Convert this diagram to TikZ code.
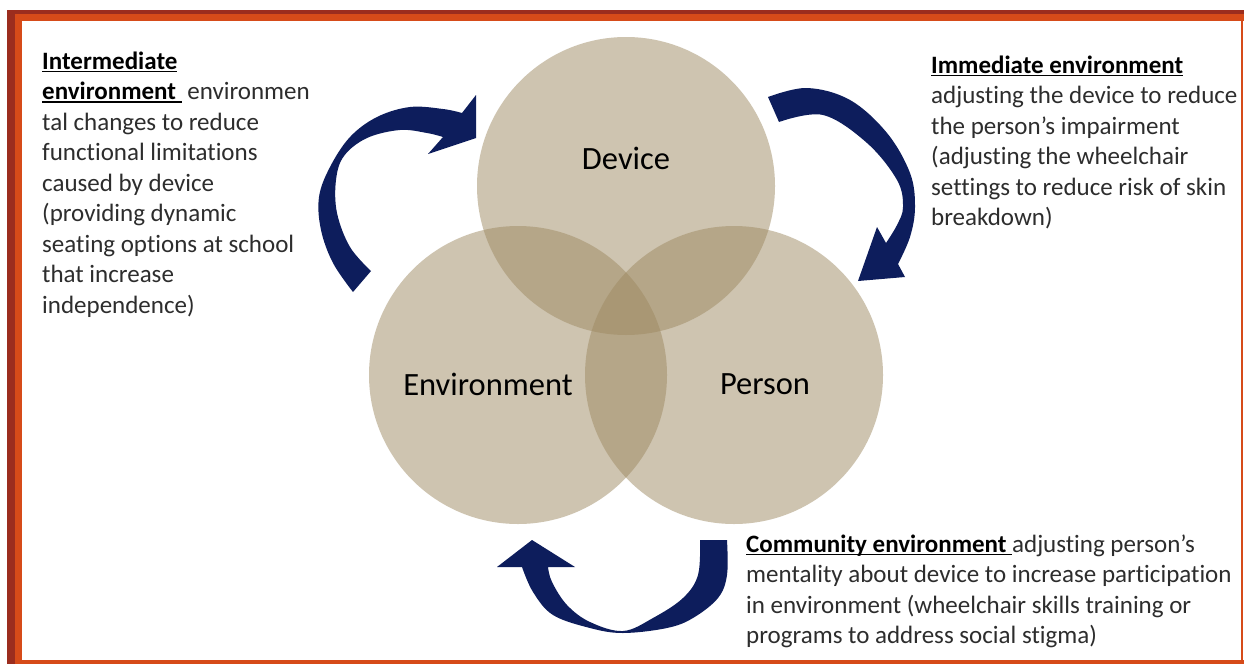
\documentclass[tikz,border=0pt]{standalone}
\usepackage{fontspec}
\setmainfont{Carlito}[Ligatures={NoCommon}]
\definecolor{framered}{RGB}{155,45,30}
\definecolor{frameorange}{RGB}{214,75,25}
\definecolor{tanbase}{RGB}{158,138,98}
\definecolor{navy}{RGB}{13,29,92}
\definecolor{bodytext}{RGB}{45,45,45}
\newcommand\myul[1]{\leavevmode\setbox0\hbox{#1}\rlap{\rule[-3.2pt]{\wd0}{1.4pt}}\box0}
\tikzset{
  venn/.style={fill=tanbase, fill opacity=0.5, draw=none},
  vlabel/.style={font=\fontsize{32.5}{36}\selectfont, text=black, inner sep=0pt},
  desc/.style={font=\fontsize{25}{30.5}\selectfont, text=bodytext, inner sep=0pt, anchor=base west},
  bigarrow/.style={fill=navy, draw=none}
}
\begin{document}
\begin{tikzpicture}[x=1pt,y=-1pt]
\path[use as bounding box, fill=white] (0,0) rectangle (1244,664);
% frame
\fill[framered] (7,10) rectangle (15,664);
\fill[framered] (7,10) rectangle (1244,14);
\fill[frameorange] (15,14) rectangle (22,664);
\fill[frameorange] (15,14) rectangle (1244,21);
\fill[frameorange] (1241,21) rectangle (1243,664);
\fill[frameorange] (15,660) rectangle (1244,664);
% circles
\fill[venn] (626,186) circle (149);
\fill[venn] (518,375) circle (149);
\fill[venn] (734,375) circle (149);
\node[vlabel] (device) at (626,158) {Device};
\node[vlabel] (env) at (488,384) {Environment};
\node[vlabel] (person) at (765,384) {Person};
% arrow top-left
\fill[bigarrow] plot[smooth, tension=0.6] coordinates {(353,292) (333,263) (321,230) (319,197) (330,167) (350,137) (377,117) (410,107) (443,109) (462,113)}
  -- (476,95) -- (476,138) -- (428,154) -- (443,137)
  -- plot[smooth, tension=0.6] coordinates {(443,137) (427,133) (400,130) (367,138) (344,156) (336,180) (337,213) (350,247) (371,271)}
  -- cycle;
% arrow top-right
\fill[bigarrow] plot[smooth, tension=0.6] coordinates {(768,97) (807,88) (850,100) (887,133) (910,173) (915,207) (910,237) (898,264)}
  -- (905,277) -- (858,281) -- (877,227) -- (886,243)
  -- plot[smooth, tension=0.6] coordinates {(886,243) (897,225) (903,207) (897,180) (867,143) (823,115) (779,122)}
  -- cycle;
% arrow bottom
\fill[bigarrow] plot[smooth, tension=0.6] coordinates {(727,540) (727,575) (718,598) (693,618) (667,628) (623,633) (590,628) (553,615) (533,592) (522,567)}
  -- (497,567) -- (532,540) -- (575,567) -- (548,567)
  -- plot[smooth, tension=0.6] coordinates {(548,567) (552,582) (567,605) (590,622) (623,631) (653,618) (683,598) (698,575) (700,540)}
  -- cycle;
% texts
\node[desc] (lefttext) at (42,69) {\parbox[t]{330pt}{\raggedright\leavevmode
{\color{black}\myul{\textbf{Intermediate}}}\\
{\color{black}\myul{\textbf{environment}\ }}\ environmen\\
tal changes to reduce\\
functional limitations\\
caused by device\\
(providing dynamic\\
seating options at school\\
that increase\\
independence)}};
\node[desc] (righttext) at (931,73) {\parbox[t]{320pt}{\raggedright\leavevmode
{\color{black}\myul{\textbf{Immediate environment}}}\\
adjusting the device to reduce\\
the person’s impairment\\
(adjusting the wheelchair\\
settings to reduce risk of skin\\
breakdown)}};
\node[desc] (bottomtext) at (746,552) {\parbox[t]{520pt}{\raggedright\leavevmode
{\color{black}\myul{\textbf{Community environment}\ }}adjusting person’s\\
mentality about device to increase participation\\
in environment (wheelchair skills training or\\
programs to address social stigma)}};
\end{tikzpicture}
\end{document}
